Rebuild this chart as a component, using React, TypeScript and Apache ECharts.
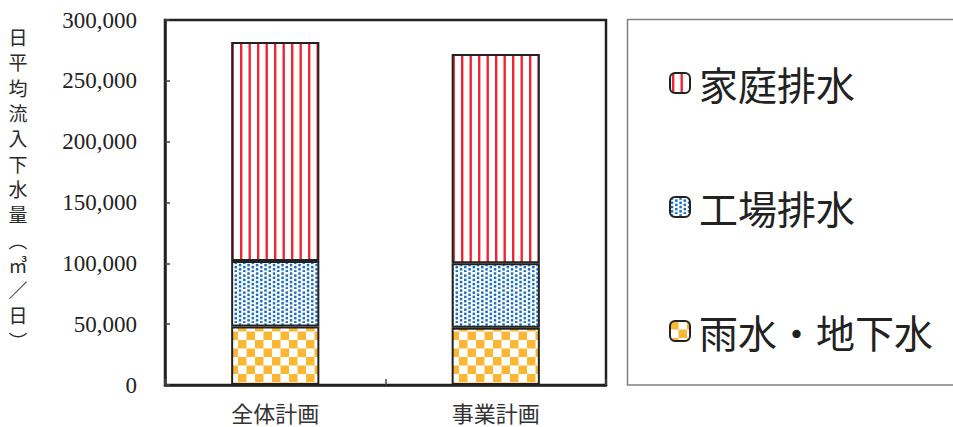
import React, { useEffect, useRef } from "react";
import * as echarts from "echarts";

const categories = ["全体計画", "事業計画"];
const seriesNames = ["雨水・地下水", "工場排水", "家庭排水"];
const rainGround = [48000, 47000];
const factory = [54000, 53000];
const household = [180000, 172000];
const legendOrder = ["家庭排水", "工場排水", "雨水・地下水"];
const yAxisNameChars = ["日", "平", "均", "流", "入", "下", "水", "量", "︵", "㎥", "／", "日", "︶"];

function makeCanvas(w: number, h: number, draw: (ctx: CanvasRenderingContext2D) => void) {
  const c = document.createElement("canvas");
  c.width = w;
  c.height = h;
  const ctx = c.getContext("2d")!;
  ctx.fillStyle = "#ffffff";
  ctx.fillRect(0, 0, w, h);
  draw(ctx);
  return c;
}

export default function App() {
  const ref = useRef<HTMLDivElement>(null);
  useEffect(() => {
    if (!ref.current) return;
    const chart = echarts.init(ref.current, undefined, { renderer: "svg" });

    const redTile = makeCanvas(17, 17, (ctx) => {
      ctx.fillStyle = "#ee2631";
      ctx.fillRect(2, 0, 2.4, 17);
      ctx.fillRect(10.5, 0, 2.4, 17);
    });
    const blueTile = makeCanvas(17, 17, (ctx) => {
      ctx.fillStyle = "#1b6fbf";
      for (let i = 0; i < 4; i++) {
        for (let j = 0; j < 4; j++) {
          const x = i * 4.25 + 0.8;
          const y = j * 4.25 + (i % 2 ? 2.1 : 0) + 0.3;
          ctx.fillRect(x, y, 2.5, 2.5);
        }
      }
    });
    const orangeTile = makeCanvas(17, 17, (ctx) => {
      ctx.fillStyle = "#fbb733";
      ctx.fillRect(0, 0, 8.5, 8.5);
      ctx.fillRect(8.5, 8.5, 8.5, 8.5);
    });
    const pat = (c: HTMLCanvasElement) => ({
      image: c,
      repeat: "repeat",
      imageWidth: 17,
      imageHeight: 17,
    });
    const fills = [pat(orangeTile), pat(blueTile), pat(redTile)];
    const values = [rainGround, factory, household];

    chart.setOption({
      animation: false,
      backgroundColor: "#ffffff",
      grid: {
        left: 165,
        right: 347,
        top: 20,
        bottom: 42,
        show: true,
        borderColor: "#222",
        borderWidth: 2.5,
      },
      legend: {
        orient: "vertical",
        left: 664,
        top: 58,
        data: legendOrder,
        itemWidth: 20,
        itemHeight: 20,
        itemGap: 84,
        textStyle: {
          fontSize: 39,
          lineHeight: 40,
          color: "#222",
          fontFamily: "Noto Sans CJK JP",
          padding: [0, 0, 0, 4],
        },
      },
      xAxis: {
        type: "category",
        data: categories,
        axisLine: { show: true, lineStyle: { color: "#222", width: 2.5 } },
        axisTick: { show: true, inside: true, length: 6, lineStyle: { color: "#444", width: 1.5 } },
        axisLabel: {
          fontSize: 22,
          lineHeight: 22,
          color: "#333",
          fontFamily: "Noto Sans CJK JP",
          margin: 16,
        },
      },
      yAxis: {
        type: "value",
        min: 0,
        max: 300000,
        interval: 50000,
        splitLine: { show: false },
        axisLine: { show: true, lineStyle: { color: "#222", width: 2.5 } },
        axisTick: { show: true, inside: true, length: 5, lineStyle: { color: "#444", width: 1.5 } },
        axisLabel: {
          fontSize: 23,
          color: "#222",
          fontFamily: "Liberation Serif",
          margin: 28,
          formatter: (v: number) => v.toLocaleString("en-US"),
        },
      },
      graphic: [
        {
          type: "text",
          x: 18,
          y: 24,
          style: {
            text: yAxisNameChars.join("\n"),
            fontSize: 19,
            lineHeight: 25.3,
            fill: "#2a2a2a",
            fontFamily: "Noto Sans CJK JP",
            align: "center",
            verticalAlign: "top",
          },
        },
        {
          type: "rect",
          shape: { x: 627.5, y: 19.5, width: 400, height: 365.5 },
          style: { fill: "none", stroke: "#808080", lineWidth: 1.5 },
          z: 10,
        },
      ],
      series: seriesNames.map((name, i) => ({
        name,
        type: "bar",
        stack: "total",
        barWidth: "40%",
        data: values[i],
        itemStyle: {
          color: fills[i],
          borderColor: "#222",
          borderWidth: 2,
        },
        emphasis: { disabled: true },
      })),
    });
    return () => chart.dispose();
  }, []);
  return (
    <div
      ref={ref}
      style={{ position: "fixed", left: 0, top: 0, width: 953, height: 427 }}
    />
  );
}
